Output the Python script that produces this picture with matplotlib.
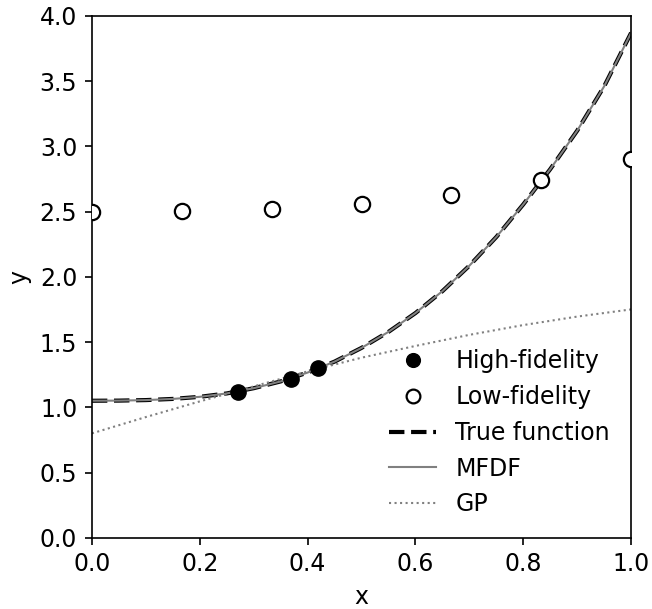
import matplotlib
matplotlib.use("Agg")
import matplotlib.pyplot as plt
import numpy as np

# high-fidelity samples
x_hf = [0.27, 0.37, 0.42]
y_hf = [1.12, 1.22, 1.30]

# low-fidelity samples
x_lf = [0.0, 1/6, 2/6, 3/6, 4/6, 5/6, 1.0]
y_lf = [2.50, 2.505, 2.52, 2.557, 2.63, 2.74, 2.90]

# curves
x_curve = [0.0, 0.05, 0.10, 0.15, 0.20, 0.25, 0.30, 0.35, 0.40, 0.45, 0.50,
           0.55, 0.60, 0.65, 0.70, 0.75, 0.80, 0.85, 0.90, 0.95, 1.0]
y_true = [1.050, 1.051, 1.055, 1.064, 1.080, 1.106, 1.146, 1.198, 1.266, 1.350,
          1.455, 1.578, 1.722, 1.890, 2.085, 2.305, 2.555, 2.825, 3.120, 3.460, 3.870]
y_mfdf = [1.050, 1.051, 1.055, 1.064, 1.080, 1.106, 1.146, 1.198, 1.266, 1.350,
          1.455, 1.578, 1.722, 1.890, 2.085, 2.305, 2.555, 2.825, 3.120, 3.460, 3.870]

x_gp = [0.0, 0.1, 0.2, 0.3, 0.4, 0.5, 0.6, 0.7, 0.8, 0.9, 1.0]
y_gp = [0.80, 0.925, 1.045, 1.16, 1.275, 1.38, 1.47, 1.555, 1.63, 1.695, 1.75]

# looks like a 150 dpi figure scaled down, so bump sizes by ~1.5
plt.rcParams['font.size'] = 17
plt.rcParams['axes.linewidth'] = 1.2
plt.rcParams['axes.labelpad'] = 6
for a in ('xtick', 'ytick'):
    plt.rcParams[a + '.major.size'] = 5.25
    plt.rcParams[a + '.major.width'] = 1.2
    plt.rcParams[a + '.major.pad'] = 5.25

fig = plt.figure(figsize=(6.52, 6.09), dpi=100)
ax = fig.add_axes([0.141, 0.117, 0.827, 0.857])

ax.plot(x_hf, y_hf, 'o', color='black', ms=11, label='High-fidelity', zorder=5)
ax.plot(x_lf, y_lf, 'o', mfc='white', mec='black', mew=1.6, ms=11,
        label='Low-fidelity', zorder=5)
ax.plot(x_curve, y_true, '--', color='black', lw=3, label='True function')
ax.plot(x_curve, y_mfdf, '-', color='gray', lw=1.5, label='MFDF')
ax.plot(x_gp, y_gp, ':', color='gray', lw=1.5, label='GP')

ax.set_xlim(0, 1)
ax.set_ylim(0, 4)
ax.set_xlabel('x')
ax.set_ylabel('y')
ax.legend(loc='lower right', frameon=False, fontsize=17, markerscale=0.9)

plt.savefig('out.png')
